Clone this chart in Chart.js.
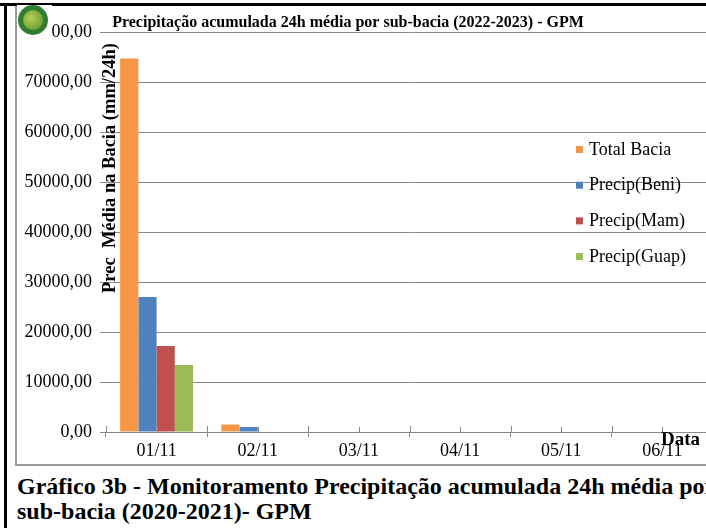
<!DOCTYPE html>
<html>
<head>
<meta charset="utf-8">
<script src="https://cdn.jsdelivr.net/npm/chart.js@4/dist/chart.umd.min.js"></script>
<style>
  html, body { margin: 0; padding: 0; background: #fff; }
  body { width: 706px; height: 528px; overflow: hidden; position: relative; }
  .top-line { position: absolute; left: 0; top: 3px; width: 706px; height: 3px; background: #000; }
  .left-line { position: absolute; left: 4px; top: 3px; width: 3px; height: 525px; background: #000; }
  .chart-frame { position: absolute; left: 15px; top: 6px; width: 720px; height: 458px;
    border-left: 2px solid #9a9a9a; border-bottom: 2px solid #9a9a9a; }
  .chart-wrap { position: absolute; left: 17px; top: 6px; width: 720px; height: 458px; }
  .logo { position: absolute; left: 17px; top: 5px; width: 35px; height: 32px; background: #fff; }
  .logo .ring { position: absolute; left: 1px; top: 0; width: 30px; height: 30px; border-radius: 50%;
    background: #2f7d32; }
  .logo .leaf { position: absolute; left: 6px; top: 5px; width: 20px; height: 20px; border-radius: 50%;
    background: radial-gradient(circle at 40% 40%, #b5cf5a, #7da83a 60%, #5c8a2a); }
  .caption { position: absolute; left: 17px; top: 474px; font: bold 24px 'Liberation Serif', 'Times New Roman', serif;
    line-height: 25px; white-space: nowrap; color: #000; }
</style>
</head>
<body>
<div class="chart-frame"></div>
<div class="chart-wrap"><canvas id="chart" width="720" height="458"></canvas></div>
<div class="top-line"></div>
<div class="left-line"></div>
<div class="logo"><div class="ring"></div><div class="leaf"></div></div>
<div class="caption">Gráfico 3b - Monitoramento Precipitação acumulada 24h média por<br>sub-bacia (2020-2021)- GPM</div>

<script>
const dates = ['01/11', '02/11', '03/11', '04/11', '05/11', '06/11'];
const totalBacia = [74700, 1500, 0, 0, 0, 0];
const precipBeni = [27000, 1000, 0, 0, 0, 0];
const precipMam = [17200, 0, 0, 0, 0, 0];
const precipGuap = [13400, 0, 0, 0, 0, 0];
const yTicks = [0, 10000, 20000, 30000, 40000, 50000, 60000, 70000, 80000];

const chartTitle = 'Precipitação acumulada 24h média por sub-bacia (2022-2023) - GPM';
const yTitle = 'Prec  Média na Bacia (mm/24h)';
const xTitle = 'Data';

const serif = "'Liberation Serif', 'Times New Roman', serif";
const gridColor = '#8a8a8a';

// title, axis titles, legend and the small extra tick marks
const extras = {
  id: 'extras',
  afterDraw(chart) {
    const ctx = chart.ctx;
    const area = chart.chartArea;
    const x = chart.scales.x;
    ctx.save();

    // tick marks above the x axis
    ctx.strokeStyle = gridColor;
    ctx.lineWidth = 1;
    ctx.beginPath();
    for (let i = 0; i <= dates.length; i++) {
      const px = Math.round(x.getPixelForValue(i - 0.5)) + 0.5;
      ctx.moveTo(px, area.bottom - 6);
      ctx.lineTo(px, area.bottom);
    }
    for (let i = 0; i < dates.length; i++) {
      const px = Math.round(x.getPixelForValue(i)) + 0.5;
      ctx.moveTo(px, area.bottom - 5);
      ctx.lineTo(px, area.bottom);
    }
    ctx.stroke();

    ctx.fillStyle = '#000';
    ctx.font = 'bold 16px ' + serif;
    ctx.textAlign = 'center';
    ctx.textBaseline = 'middle';
    ctx.fillText(chartTitle, 331, 17);

    ctx.font = 'bold 18.5px ' + serif;
    ctx.save();
    ctx.translate(93, 162);
    ctx.rotate(-Math.PI / 2);
    ctx.fillText(yTitle, 0, 0);
    ctx.restore();

    ctx.font = 'bold 19px ' + serif;
    ctx.textAlign = 'left';
    ctx.textBaseline = 'alphabetic';
    ctx.fillText(xTitle, 644, 439);

    // legend over the plot
    ctx.font = '18px ' + serif;
    ctx.textBaseline = 'middle';
    chart.data.datasets.forEach((ds, i) => {
      const cy = 143 + i * 35.7;
      ctx.fillStyle = ds.backgroundColor;
      ctx.fillRect(559, cy - 3, 7, 7);
      ctx.fillStyle = '#000';
      ctx.fillText(ds.label, 572, cy + 1);
    });
    ctx.restore();
  }
};

new Chart(document.getElementById('chart'), {
  type: 'bar',
  data: {
    labels: dates,
    datasets: [
      { label: 'Total Bacia', data: totalBacia, backgroundColor: '#F79646' },
      { label: 'Precip(Beni)', data: precipBeni, backgroundColor: '#4F81BD' },
      { label: 'Precip(Mam)', data: precipMam, backgroundColor: '#C0504D' },
      { label: 'Precip(Guap)', data: precipGuap, backgroundColor: '#9BBB59' }
    ]
  },
  options: {
    responsive: false,
    animation: false,
    events: [],
    layout: { padding: { top: 26, right: 24, left: 0, bottom: 0 } },
    datasets: {
      bar: { categoryPercentage: 0.72, barPercentage: 1.0, borderWidth: 0 }
    },
    plugins: {
      legend: { display: false },
      title: { display: false },
      tooltip: { enabled: false }
    },
    scales: {
      x: {
        offset: true,
        afterFit: (scale) => { scale.height = 32; },
        grid: { display: true, offset: true, drawOnChartArea: false, tickLength: 5, color: gridColor },
        border: { display: true, color: gridColor },
        ticks: { color: '#000', font: { family: serif, size: 18 }, padding: 3, maxRotation: 0 }
      },
      y: {
        min: 0,
        max: 80000,
        afterFit: (scale) => { scale.width = 89; },
        afterBuildTicks: (scale) => { scale.ticks = yTicks.map(v => ({ value: v })); },
        grid: { color: gridColor, tickLength: 6 },
        border: { display: false },
        ticks: {
          color: '#000',
          font: { family: serif, size: 18 },
          padding: 8,
          callback: (v) => v.toFixed(2).replace('.', ',')
        }
      }
    }
  },
  plugins: [extras]
});
</script>
</body>
</html>
